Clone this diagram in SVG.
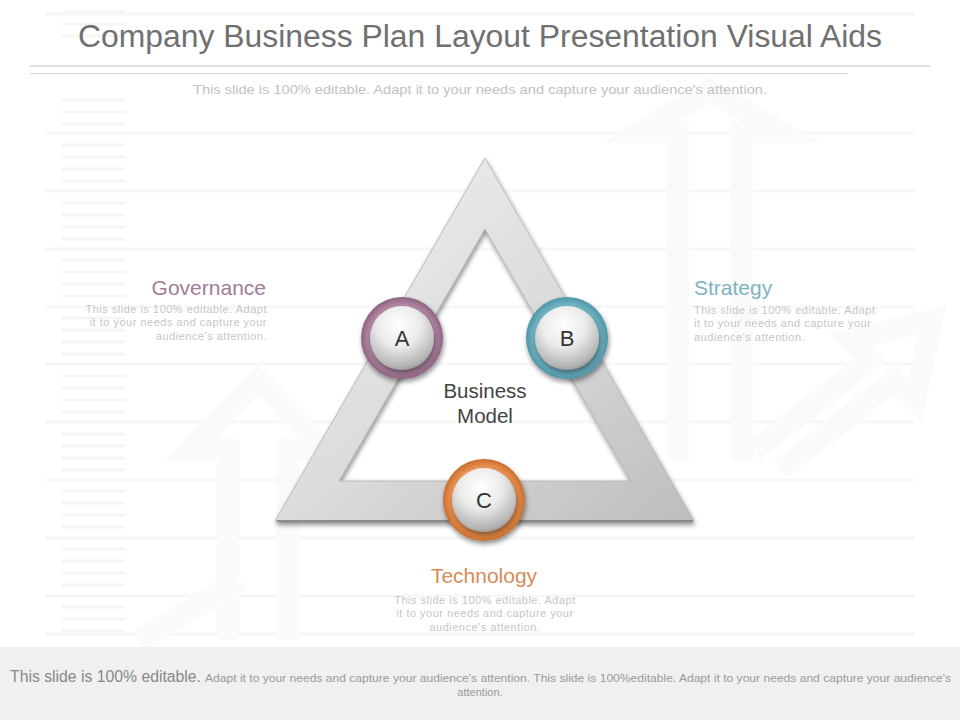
<svg xmlns="http://www.w3.org/2000/svg" width="960" height="720" viewBox="0 0 960 720">
  <style>
    .t { font-family: "Liberation Sans", Arial, sans-serif; }
    .body { font-family: "Liberation Sans", Arial, sans-serif; font-size: 11px; fill: #c6c6c6; letter-spacing: 0.5px; }
    .head { font-family: "Liberation Sans", Arial, sans-serif; font-size: 21px; }
    .letter { font-family: "Liberation Sans", Arial, sans-serif; font-size: 22px; fill: #333333; text-anchor: middle; }
    .bgline { stroke: #f7f7f7; stroke-width: 3; }
    .bgshort { stroke: #f5f5f5; stroke-width: 3; }
    .bgarrow { fill: none; stroke: #fafafa; stroke-width: 22; stroke-linejoin: miter; }
  </style>
  <defs>
    <linearGradient id="triGrad" x1="0" y1="0" x2="1" y2="1">
      <stop offset="0" stop-color="#f4f4f4"/>
      <stop offset="0.5" stop-color="#dcdcdc"/>
      <stop offset="1" stop-color="#bdbdbd"/>
    </linearGradient>
    <radialGradient id="sphere" cx="0.45" cy="0.3" r="0.75">
      <stop offset="0" stop-color="#ffffff"/>
      <stop offset="0.45" stop-color="#ebebeb"/>
      <stop offset="0.85" stop-color="#b5b5b5"/>
      <stop offset="1" stop-color="#8f8f8f"/>
    </radialGradient>
    <radialGradient id="ringA" r="0.5">
      <stop offset="0.8" stop-color="#b58aa6"/>
      <stop offset="1" stop-color="#8e6280"/>
    </radialGradient>
    <radialGradient id="ringB" r="0.5">
      <stop offset="0.8" stop-color="#74b6c5"/>
      <stop offset="1" stop-color="#4e95a6"/>
    </radialGradient>
    <radialGradient id="ringC" r="0.5">
      <stop offset="0.8" stop-color="#ec9455"/>
      <stop offset="1" stop-color="#c86e2e"/>
    </radialGradient>
    <filter id="shadow" x="-20%" y="-20%" width="140%" height="140%">
      <feGaussianBlur in="SourceAlpha" stdDeviation="2.5"/>
      <feOffset dx="1" dy="3" result="b"/>
      <feComponentTransfer><feFuncA type="linear" slope="0.45"/></feComponentTransfer>
      <feMerge><feMergeNode/><feMergeNode in="SourceGraphic"/></feMerge>
    </filter>
  </defs>

  <rect width="960" height="720" fill="#ffffff"/>

  <!-- faint background decoration -->
  <g id="background">
    <g class="bgshort">
      <line x1="62" y1="12" x2="125" y2="12"/><line x1="62" y1="24" x2="125" y2="24"/><line x1="62" y1="36" x2="125" y2="36"/>
      <line x1="62" y1="100" x2="125" y2="100"/><line x1="62" y1="112" x2="125" y2="112"/><line x1="62" y1="124" x2="125" y2="124"/>
      <line x1="62" y1="145" x2="125" y2="145"/><line x1="62" y1="157" x2="125" y2="157"/><line x1="62" y1="169" x2="125" y2="169"/><line x1="62" y1="181" x2="125" y2="181"/>
      <line x1="62" y1="203" x2="125" y2="203"/><line x1="62" y1="215" x2="125" y2="215"/><line x1="62" y1="227" x2="125" y2="227"/><line x1="62" y1="239" x2="125" y2="239"/>
      <line x1="62" y1="260" x2="125" y2="260"/><line x1="62" y1="272" x2="125" y2="272"/><line x1="62" y1="284" x2="125" y2="284"/><line x1="62" y1="296" x2="125" y2="296"/>
      <line x1="62" y1="318" x2="125" y2="318"/><line x1="62" y1="330" x2="125" y2="330"/><line x1="62" y1="342" x2="125" y2="342"/><line x1="62" y1="354" x2="125" y2="354"/>
      <line x1="62" y1="376" x2="125" y2="376"/><line x1="62" y1="388" x2="125" y2="388"/><line x1="62" y1="400" x2="125" y2="400"/><line x1="62" y1="412" x2="125" y2="412"/>
      <line x1="62" y1="434" x2="125" y2="434"/><line x1="62" y1="446" x2="125" y2="446"/><line x1="62" y1="458" x2="125" y2="458"/><line x1="62" y1="470" x2="125" y2="470"/>
      <line x1="62" y1="491" x2="125" y2="491"/><line x1="62" y1="503" x2="125" y2="503"/><line x1="62" y1="515" x2="125" y2="515"/><line x1="62" y1="527" x2="125" y2="527"/>
      <line x1="62" y1="549" x2="125" y2="549"/><line x1="62" y1="561" x2="125" y2="561"/><line x1="62" y1="573" x2="125" y2="573"/><line x1="62" y1="585" x2="125" y2="585"/>
      <line x1="62" y1="607" x2="125" y2="607"/><line x1="62" y1="619" x2="125" y2="619"/><line x1="62" y1="631" x2="125" y2="631"/>
    </g>
    <g class="bgline">
      <line x1="45" y1="14" x2="915" y2="14"/>
      <line x1="45" y1="133" x2="915" y2="133"/>
      <line x1="45" y1="191" x2="915" y2="191"/>
      <line x1="45" y1="249" x2="915" y2="249"/>
      <line x1="45" y1="307" x2="915" y2="307"/>
      <line x1="45" y1="364" x2="915" y2="364"/>
      <line x1="45" y1="422" x2="915" y2="422"/>
      <line x1="45" y1="480" x2="915" y2="480"/>
      <line x1="45" y1="538" x2="915" y2="538"/>
      <line x1="45" y1="596" x2="915" y2="596"/>
      <line x1="45" y1="634" x2="915" y2="634"/>
    </g>
    <path class="bgarrow" d="M678 460 L678 132 L640 132 L710 90 L780 132 L742 132 L742 460"/>
    <path class="bgarrow" d="M755 450 L870 360 L850 340 L932 320 L915 400 L895 380 L780 470"/>
    <path class="bgarrow" d="M228 640 L228 450 L190 450 L258 380 L326 450 L288 450 L288 640"/>
    <path class="bgarrow" d="M140 640 L240 580"/>
  </g>

  <!-- title -->
  <g id="header">
    <text class="t" x="480" y="47" font-size="31" fill="#707070" text-anchor="middle" textLength="804" lengthAdjust="spacingAndGlyphs">Company Business Plan Layout Presentation Visual Aids</text>
    <line x1="30" y1="66" x2="930" y2="66" stroke="#bdbdbd" stroke-width="1"/>
    <line x1="30" y1="73.5" x2="848" y2="73.5" stroke="#d6d6d6" stroke-width="1"/>
    <text class="t" x="480" y="94" font-size="13" fill="#c2c2c2" text-anchor="middle" textLength="574" lengthAdjust="spacingAndGlyphs">This slide is 100% editable. Adapt it to your needs and capture your audience's attention.</text>
  </g>

  <!-- triangle -->
  <g id="triangle" filter="url(#shadow)">
    <path d="M485 158 L694 521 L275 521 Z M485 229 L339 481 L631 481 Z" fill="url(#triGrad)" fill-rule="evenodd" stroke="#b0b0b0" stroke-width="0.8"/>
    <line x1="277" y1="521" x2="693" y2="521" stroke="#7a7a7a" stroke-width="1.5"/>
  </g>

  <g id="center-label">
    <text class="t" x="485" y="398" font-size="20.5" fill="#444444" text-anchor="middle">Business</text>
    <text class="t" x="485" y="423" font-size="20.5" fill="#444444" text-anchor="middle">Model</text>
  </g>

  <!-- nodes -->
  <g id="node-a">
    <circle cx="402" cy="338" r="41" fill="url(#ringA)" filter="url(#shadow)"/>
    <circle cx="402" cy="338" r="32" fill="url(#sphere)" filter="url(#shadow)"/>
    <text class="letter" x="402" y="346">A</text>
  </g>
  <g id="node-b">
    <circle cx="567" cy="338" r="41" fill="url(#ringB)" filter="url(#shadow)"/>
    <circle cx="567" cy="338" r="32" fill="url(#sphere)" filter="url(#shadow)"/>
    <text class="letter" x="567" y="346">B</text>
  </g>
  <g id="node-c">
    <circle cx="484" cy="500" r="41" fill="url(#ringC)" filter="url(#shadow)"/>
    <circle cx="484" cy="500" r="32" fill="url(#sphere)" filter="url(#shadow)"/>
    <text class="letter" x="484" y="508">C</text>
  </g>

  <g id="connectors"></g>

  <!-- side labels -->
  <g id="governance">
    <text class="head" x="266" y="295" fill="#a27b97" text-anchor="end">Governance</text>
    <text class="body" x="267" y="313" text-anchor="end">This slide is 100% editable. Adapt</text>
    <text class="body" x="267" y="326" text-anchor="end">it to your needs and capture your</text>
    <text class="body" x="267" y="340" text-anchor="end">audience's attention.</text>
  </g>
  <g id="strategy">
    <text class="head" x="694" y="295" fill="#7db3c1">Strategy</text>
    <text class="body" x="694" y="314">This slide is 100% editable. Adapt</text>
    <text class="body" x="694" y="327">it to your needs and capture your</text>
    <text class="body" x="694" y="341">audience's attention.</text>
  </g>
  <g id="technology">
    <text class="head" x="484" y="583" fill="#d68c58" text-anchor="middle">Technology</text>
    <text class="body" x="485" y="604" text-anchor="middle">This slide is 100% editable. Adapt</text>
    <text class="body" x="485" y="617" text-anchor="middle">it to your needs and capture your</text>
    <text class="body" x="485" y="631" text-anchor="middle">audience's attention.</text>
  </g>

  <!-- footer -->
  <g id="footer">
    <rect x="0" y="647" width="960" height="73" fill="#f0f0f0"/>
    <text class="t" x="10" y="682" font-size="16" fill="#888888" textLength="191" lengthAdjust="spacingAndGlyphs">This slide is 100% editable.</text>
    <text class="t" x="205" y="682" font-size="11" fill="#9a9a9a" textLength="746" lengthAdjust="spacingAndGlyphs">Adapt it to your needs and capture your audience's attention. This slide is 100%editable. Adapt it to your needs and capture your audience's</text>
    <text class="t" x="480" y="696" font-size="11" fill="#9a9a9a" text-anchor="middle">attention.</text>
  </g>
</svg>
